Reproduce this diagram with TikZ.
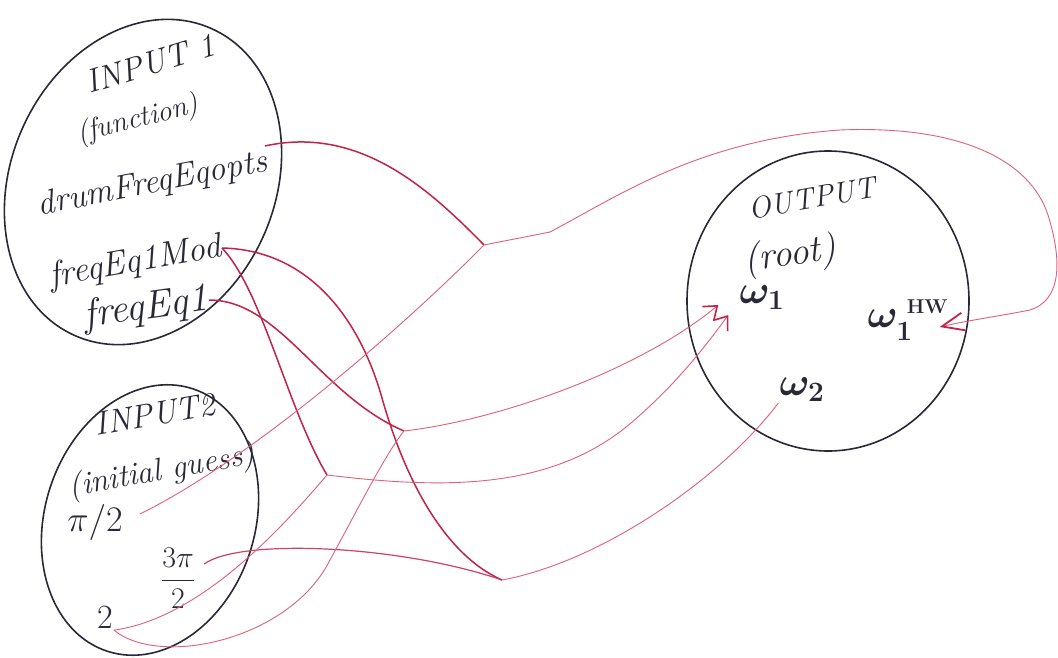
\RequirePackage{fix-cm}
\documentclass[tikz,border=0pt]{standalone}
\usetikzlibrary{arrows.meta,shapes.geometric}
\definecolor{ink}{RGB}{40,40,55}
\definecolor{redink}{RGB}{195,35,70}
\definecolor{pinkink}{RGB}{225,95,125}
\tikzset{
  hand/.style={text=ink, inner sep=1pt, font=\fontsize{#1}{#1}\selectfont\itshape},
  mhand/.style={text=ink, inner sep=1pt, font=\fontsize{#1}{#1}\selectfont\boldmath},
  bubble/.style={draw=ink, line width=1.6pt, ellipse, inner sep=0pt},
  fnline/.style={draw=redink, line width=1.5pt},
  argline/.style={draw=pinkink, line width=0.9pt},
  resline/.style={draw=pinkink, line width=0.9pt},
  barbtip/.style={-{Straight Barb[length=12pt,width=18pt,line width=1.6pt,color=redink]}},
  hwtip/.style={-{Straight Barb[length=22pt,width=18pt,line width=1.8pt,color=redink]}}
}
\begin{document}
\begin{tikzpicture}[x=1pt,y=-1pt]
\fill[white] (0,0) rectangle (1058,658);
\useasboundingbox (0,0) rectangle (1058,658);

% containers
\node[bubble, minimum width=264pt, minimum height=336pt, rotate=-24] (in1) at (143,182) {};
\node[bubble, minimum width=210pt, minimum height=276pt, rotate=-18] (in2) at (150,520) {};
\node[bubble, minimum width=282pt, minimum height=300pt] (out) at (828,301) {};

% INPUT 1 texts
\node[hand=33, rotate=17] (tin1) at (150,64) {INPUT 1};
\node[hand=29, rotate=14] (tfun) at (138,120) {(function)};
\node[hand=34, rotate=11, anchor=east] (opts) at (268,162) {drumFreqEqopts};
\node[hand=35, rotate=10, anchor=east] (mod) at (222,248) {freqEq1Mod};
\node[hand=40, rotate=8, anchor=east] (eq1) at (209,300) {freqEq1};

% INPUT 2 texts
\node[hand=33, rotate=10] (tin2) at (155,414) {INPUT2};
\node[hand=32, rotate=10] (tguess) at (162,472) {(initial guess)};
\node[hand=36] (pihalf) at (95,522) {$\pi/2$};
\node[hand=30] (tpi3) at (178,578) {$\displaystyle\frac{3\pi}{2}$};
\node[hand=34] (two) at (105,618) {$2$};

% OUTPUT texts
\node[hand=30, rotate=10] (tout) at (812,198) {OUTPUT};
\node[hand=38, rotate=8] (troot) at (790,256) {(root)};
\node[mhand=40] (w1) at (762,298) {$\omega_1$};
\node[mhand=40] (w1hw) at (908,320) {$\omega_1^{\;\mathrm{\scriptscriptstyle HW}}$};
\node[mhand=40] (w2) at (802,390) {$\omega_2$};

% junctions
\coordinate (J1) at (484,245);
\coordinate (J2) at (404,431);
\coordinate (J3) at (327,475);
\coordinate (J4) at (502,580);

% function lines
\draw[fnline] (opts.north east) .. controls (360,125) and (430,190) .. (J1);
\draw[fnline] (mod.east) .. controls (262,290) and (288,410) .. (J3);
\draw[fnline] (mod.east) .. controls (310,250) and (360,320) .. (382,398)
              .. controls (405,480) and (445,555) .. (J4);
\draw[fnline] (eq1.east) .. controls (280,300) and (320,395) .. (J2);

% initial guess lines
\draw[argline] ([shift={(16,-8)}]pihalf.east) .. controls (250,460) and (400,330) .. (J1);
\draw[argline, line width=1.2pt, draw=redink!85] ([shift={(8,-14)}]tpi3.east) .. controls (240,538) and (400,545) .. (J4);
\draw[argline] (two.south east) .. controls (200,618) and (280,530) .. (J3);
\draw[argline] (two.south east) .. controls (160,668) and (290,640) .. (330,560)
              .. controls (360,505) and (385,455) .. (J2);

% result lines
\draw[resline, hwtip] (J1) -- (550,232) .. controls (620,195) and (700,140) .. (840,130)
   .. controls (960,125) and (1030,160) .. (1048,215)
   .. controls (1062,260) and (1062,300) .. (1030,310)
   .. controls (1000,316) and (970,320) .. ([shift={(-10,7)}]w1hw.east);
\draw[resline, barbtip] (J2) .. controls (500,420) and (640,370) .. ([shift={(-20,7)}]w1.west);
\draw[resline, barbtip] (J3) .. controls (450,490) and (560,490) .. (640,415)
   .. controls (680,380) and (710,340) .. ([shift={(-10,17)}]w1.west);
\draw[resline] (J4) .. controls (600,562) and (720,480) .. (w2.south west);
\end{tikzpicture}
\end{document}
